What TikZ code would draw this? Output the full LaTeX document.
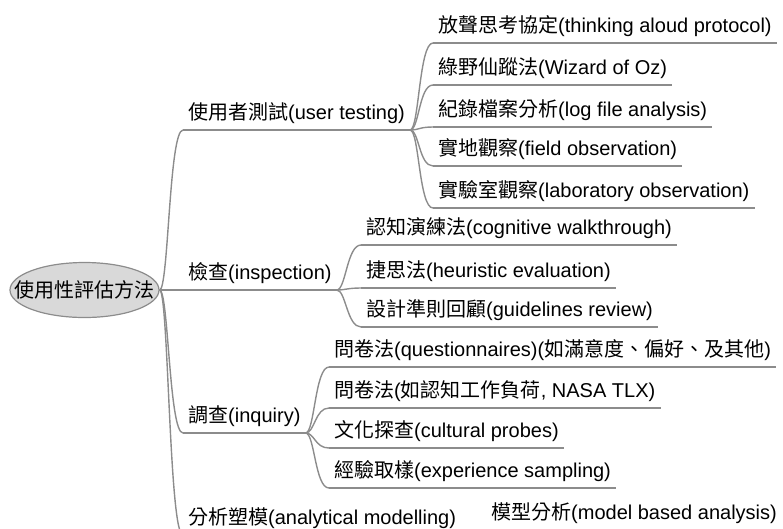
\documentclass[tikz,border=0pt]{standalone}
\usepackage{fontspec}
\setmainfont{Liberation Sans}
\newfontfamily\cjkfont{Noto Sans CJK TC}
\newcommand{\zh}[1]{{\cjkfont #1}}
\usetikzlibrary{shapes.geometric}
\definecolor{linegray}{HTML}{8C8C8C}
\definecolor{rootfill}{HTML}{D9D9D9}
\tikzset{
    conn/.style={draw=linegray, line width=1.4pt},
    topic/.style={anchor=south west, inner xsep=5pt, inner ysep=5pt,
        text height=16pt, text depth=5pt, font=\fontsize{20}{24}\selectfont},
    rootnode/.style={ellipse, draw=linegray, fill=rootfill, line width=1.2pt,
        minimum width=149pt, minimum height=55pt, inner sep=0pt}
}
\begin{document}
\begin{tikzpicture}[x=1pt, y=-1pt]
        \useasboundingbox (0,0) rectangle (783,528);
        % central topic
        \node[rootnode, label={[font=\fontsize{20}{24}\selectfont]center:\zh{使用性評估方法}}] (root) at (84.5,290) {};
        % main branches
        \node[topic] (b1) at (183,130) {\zh{使用者測試}(user testing)};
        \node[topic] (b2) at (183,290) {\zh{檢查}(inspection)};
        \node[topic] (b3) at (183,433) {\zh{調查}(inquiry)};
        \node[topic] (b4) at (183,535) {\zh{分析塑模}(analytical modelling)};
        % user testing
        \node[topic] (test1) at (433,43) {\zh{放聲思考協定}(thinking aloud protocol)};
        \node[topic] (test2) at (433,85) {\zh{綠野仙蹤法}(Wizard of Oz)};
        \node[topic] (test3) at (433,127) {\zh{紀錄檔案分析}(log file analysis)};
        \node[topic] (test4) at (433,166) {\zh{實地觀察}(field observation)};
        \node[topic] (test5) at (433,208) {\zh{實驗室觀察}(laboratory observation)};
        % inspection
        \node[topic] (insp1) at (361,245) {\zh{認知演練法}(cognitive walkthrough)};
        \node[topic] (insp2) at (361,288) {\zh{捷思法}(heuristic evaluation)};
        \node[topic] (insp3) at (361,327) {\zh{設計準則回顧}(guidelines review)};
        % inquiry
        \node[topic] (inq1) at (329,367) {\zh{問卷法}(questionnaires)(\zh{如滿意度、偏好、及其他})};
        \node[topic] (inq2) at (329,408) {\zh{問卷法}(\zh{如認知工作負荷}, NASA TLX)};
        \node[topic] (inq3) at (329,448) {\zh{文化探查}(cultural probes)};
        \node[topic] (inq4) at (329,488) {\zh{經驗取樣}(experience sampling)};
        % analytical modelling
        \node[topic] (model1) at (486,530) {\zh{模型分析}(model based analysis)};
        % underlines
        \foreach \n in {b1,b2,b3,b4,test1,test2,test3,test4,test5,insp1,insp2,insp3,inq1,inq2,inq3,inq4,model1}
            \draw[conn] (\n.south west) -- (\n.south east);
        % connectors
        \foreach \a/\b in {root.east/b1, root.east/b2, root.east/b3, root.east/b4,
                b1.south east/test1, b1.south east/test2, b1.south east/test3, b1.south east/test4, b1.south east/test5,
                b2.south east/insp1, b2.south east/insp2, b2.south east/insp3,
                b3.south east/inq1, b3.south east/inq2, b3.south east/inq3, b3.south east/inq4,
                b4.south east/model1}
            \draw[conn] (\a) .. controls +(9,0) and +(-14,0) .. (\b.south west);
\end{tikzpicture}
\end{document}
